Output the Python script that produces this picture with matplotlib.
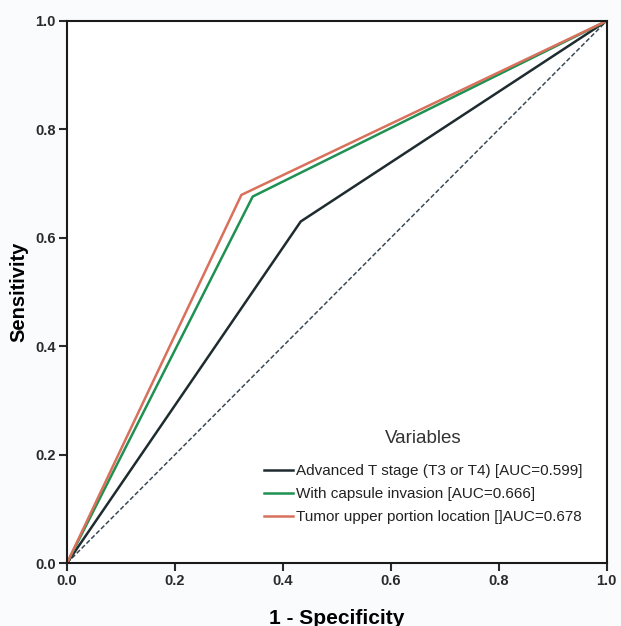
import matplotlib.pyplot as plt

plt.rcParams['font.family'] = ['Liberation Sans', 'DejaVu Sans']

# ROC curves (1 - specificity, sensitivity), one cut point each
labels = ['Advanced T stage (T3 or T4) [AUC=0.599]',
          'With capsule invasion [AUC=0.666]',
          'Tumor upper portion location []AUC=0.678']
fpr = [[0.0, 0.433, 1.0],
       [0.0, 0.344, 1.0],
       [0.0, 0.323, 1.0]]
tpr = [[0.0, 0.630, 1.0],
       [0.0, 0.676, 1.0],
       [0.0, 0.679, 1.0]]
colors = ['#1e2b2f', '#1f9152', '#d8705c']
ticks = [0.0, 0.2, 0.4, 0.6, 0.8, 1.0]

fig = plt.figure(figsize=(6.21, 6.26), dpi=100, facecolor='#fafbfd')
ax = fig.add_axes([0.108, 0.1006, 0.869, 0.866])
ax.set_facecolor('white')

ax.plot([0, 1], [0, 1], color='#3a4a55', lw=1.1, ls=(0, (3, 1.5)))
for x, y, c, lab in zip(fpr, tpr, colors, labels):
    ax.plot(x, y, color=c, lw=1.8, label=lab)

ax.set_xlim(0, 1)
ax.set_ylim(0, 1)
ax.set_xticks(ticks)
ax.set_yticks(ticks)
ax.set_xticklabels([f'{t:.1f}' for t in ticks], fontweight='bold')
ax.set_yticklabels([f'{t:.1f}' for t in ticks], fontweight='bold')
ax.tick_params(direction='out', length=6, width=1.5, labelsize=10.5,
               colors='#2a2a2a', pad=2)
for s in ax.spines.values():
    s.set_linewidth(1.5)
    s.set_color('#1a1a1a')

ax.set_xlabel('1 - Specificity', fontsize=15, fontweight='bold', labelpad=15)
ax.set_ylabel('Sensitivity', fontsize=14.5, fontweight='bold', labelpad=5)

leg = ax.legend(loc='upper left', bbox_to_anchor=(0.34, 0.27), frameon=False,
                title='Variables', fontsize=11, handlelength=1.9,
                handletextpad=0.15, labelspacing=0.6)
leg.get_title().set_fontsize(13.5)
leg.get_title().set_color('#333333')
leg._legend_box.sep = 12
for t in leg.get_texts():
    t.set_color('#222222')

fig.savefig('out.png', dpi=100, facecolor=fig.get_facecolor())
